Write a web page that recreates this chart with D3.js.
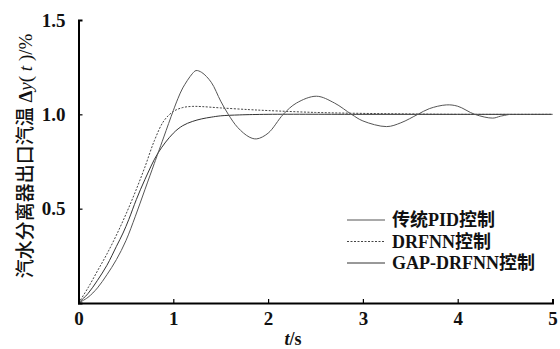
<!DOCTYPE html>
<html><head><meta charset="utf-8">
<script src="https://cdn.jsdelivr.net/npm/d3@7"></script>
<style>body{margin:0;background:#fff}svg{display:block}</style>
</head><body><svg id="c" width="560" height="349"></svg>
<script>
const xTicks = [0,1,2,3,4,5];
const yTicks = [0.5,1.0,1.5];
const seriesNames = ["传统PID控制","DRFNN控制","GAP-DRFNN控制"];
const pidT = [0,0.1,0.2,0.3,0.4,0.5,0.6,0.7,0.8,0.84,0.9,1.0,1.05,1.1,1.2,1.24,1.3,1.4,1.5,1.58,1.68,1.8,1.88,2.0,2.16,2.3,2.51,2.7,2.88,3.0,3.25,3.4,3.58,3.7,3.88,4.0,4.18,4.37,4.45,4.55];
const pidV = [0,0.03,0.08,0.15,0.23,0.33,0.46,0.60,0.74,0.796,0.88,1.02,1.085,1.14,1.215,1.232,1.222,1.17,1.07,1.0,0.93,0.88,0.87,0.9,1.0,1.06,1.096,1.06,1.0,0.965,0.935,0.955,1.0,1.03,1.05,1.043,1.0,0.98,0.99,1.0];
const drT = [0,0.1,0.2,0.3,0.4,0.5,0.6,0.7,0.8,0.9,1.0,1.1,1.2,1.3,1.5,1.8,2.0,2.5,3.0,3.5,4.0,5.0];
const drV = [0,0.08,0.17,0.26,0.36,0.47,0.59,0.72,0.86,0.965,1.015,1.036,1.042,1.041,1.034,1.025,1.02,1.01,1.005,1.002,1.0,1.0];
const gapT = [0,0.1,0.2,0.3,0.4,0.47,0.53,0.61,0.7,0.84,1.0,1.1,1.2,1.3,1.4,1.5,1.7,2.0,3.0,4.0,5.0];
const gapV = [0,0.05,0.12,0.2,0.3,0.371,0.442,0.548,0.654,0.796,0.9,0.94,0.962,0.976,0.985,0.992,0.997,1.0,1.0,1.0,1.0];

const svg = d3.select("#c");
const x = d3.scaleLinear().domain([0,5]).range([78.5,552.5]);
const y = d3.scaleLinear().domain([0,1.5]).range([303,20]);
const serif = "'Liberation Serif','Times New Roman',serif";
const cjk = "'Noto Sans CJK SC',sans-serif";

const line = d3.line().x(d=>x(d[0])).y(d=>y(d[1])).curve(d3.curveCatmullRom.alpha(0.5));
const zip = (a,b)=>a.map((t,i)=>[t,b[i]]);

svg.append("path").attr("d",line(zip(gapT,gapV))).attr("fill","none").attr("stroke","#333").attr("stroke-width",1);
svg.append("path").attr("d",line(zip(drT,drV))).attr("fill","none").attr("stroke","#444").attr("stroke-width",1).attr("stroke-dasharray","2,1.5");
svg.append("path").attr("d",line(zip(pidT,pidV))).attr("fill","none").attr("stroke","#555").attr("stroke-width",1);

// axes
const xAxis = d3.axisBottom(x).tickValues(xTicks).tickSize(-4).tickFormat(d3.format("d")).tickPadding(9);
const gx = svg.append("g").attr("transform","translate(0,303)").call(xAxis);
gx.select(".domain").attr("stroke","#000").attr("stroke-width",2);
gx.selectAll(".tick line").attr("stroke","#000").attr("stroke-width",1.2);
gx.selectAll("text").attr("font-family",serif).attr("font-weight","bold").attr("font-size",19).attr("fill","#111");

const yAxis = d3.axisLeft(y).tickValues(yTicks).tickSize(-4).tickFormat(d3.format(".1f")).tickPadding(13);
const gy = svg.append("g").attr("transform","translate(78.5,0)").call(yAxis);
gy.select(".domain").attr("stroke","#000").attr("stroke-width",2);
gy.selectAll(".tick line").attr("stroke","#000").attr("stroke-width",1.2);
gy.selectAll(".tick").filter(d=>d===1.5).select("line").remove();
gy.selectAll("text").attr("font-family",serif).attr("font-weight","bold").attr("font-size",19).attr("fill","#111");

// x title
const xt = svg.append("text").attr("x",293).attr("y",345).attr("text-anchor","middle")
  .attr("font-family",serif).attr("font-weight","bold").attr("font-size",18).attr("fill","#111");
xt.append("tspan").attr("font-style","italic").text("t");
xt.append("tspan").text("/s");

// y title
const yt = svg.append("text").attr("transform","translate(32,156) rotate(-90)").attr("text-anchor","middle")
  .attr("font-size",19).attr("fill","#111");
yt.append("tspan").attr("font-family",cjk).attr("font-weight",500).text("汽水分离器出口汽温");
yt.append("tspan").attr("font-family",serif).attr("font-weight","bold").text(" Δ");
yt.append("tspan").attr("font-family",serif).attr("font-style","italic").text("y");
yt.append("tspan").attr("font-family",serif).text("( ");
yt.append("tspan").attr("font-family",serif).attr("font-style","italic").text("t");
yt.append("tspan").attr("font-family",serif).text(" )/%");

// legend
const styles = [{s:"#555",d:null},{s:"#444",d:"2,1.5"},{s:"#333",d:null}];
const lg = svg.append("g");
seriesNames.forEach((n,i)=>{
  const yy = 220 + i*21.5;
  lg.append("line").attr("x1",347).attr("x2",385).attr("y1",yy).attr("y2",yy)
    .attr("stroke",styles[i].s).attr("stroke-width",1).attr("stroke-dasharray",styles[i].d);
  const t = lg.append("text").attr("x",392).attr("y",yy+6).attr("font-size",18).attr("font-weight","bold").attr("fill","#111");
  const parts = n.match(/[A-Za-z\-]+|[^A-Za-z\-]+/g);
  parts.forEach(p=>{
    t.append("tspan").attr("font-family",/[A-Za-z]/.test(p)?serif:cjk).text(p);
  });
});
</script></body></html>
